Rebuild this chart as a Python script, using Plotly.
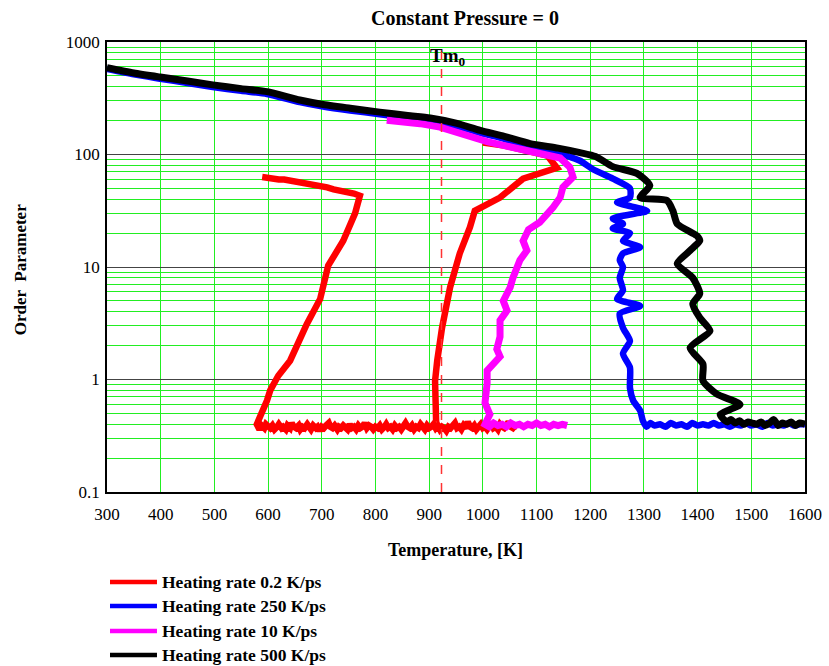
import plotly.graph_objects as go

# ---------------- data ----------------
TM0 = 923  # melting temperature marker (K)

# Heating rate 0.2 K/ps  (two pieces, separated by None)
red_T = [1000, 1040, 1088, 1120, 1138, 1075, 1032, 985, 976, 957, 939, 924, 915, 911, 913,
         None,
         589, 596, 604, 612, 620, 630, 640, 648, 655, 668, 680, 690, 700, 710, 722, 735, 748, 760, 771,
         762, 740, 712, 697, 672, 641, 619, 604, 598, 579,
         584, 588, 593, 596, 601, 604, 608, 612, 617, 620, 625, 628, 633, 636, 641, 644, 648, 652,
         657, 660, 664, 668, 673, 676, 680, 684, 689, 692, 696, 700, 704, 708, 713, 716, 720,
         724, 729, 732, 736, 740, 744, 748, 752, 756, 760, 764, 768, 772, 776, 780, 784, 788,
         792, 796, 800, 804, 808, 812, 817, 820, 824, 828, 832, 836, 840, 844, 848, 852, 856,
         860, 864, 868, 872, 876, 880, 884, 888, 892, 896, 900, 904, 908, 912, 916, 920, 924,
         928, 932, 936, 940, 944, 948, 952, 956, 960, 964, 968, 972, 976, 980, 984, 988, 992,
         996, 1000, 1004, 1008, 1012, 1016, 1020, 1024, 1028, 1032, 1036, 1040, 1044, 1048,
         1052, 1056, 1060, 1065, 1071]
red_v = [128, 120, 106, 98, 76, 61, 41.4, 31.6, 22.6, 13.2, 6.6, 2.88, 1.47, 0.97, 0.42,
         None,
         63, 62, 62, 61, 60, 60, 59, 58, 57, 56, 55, 54, 53, 51, 49, 48, 46, 45, 43,
         30, 17.1, 10.3, 5.2, 3.1, 1.47, 1.08, 0.80, 0.65, 0.40,
         0.36, 0.39, 0.37, 0.40, 0.38, 0.37, 0.39, 0.36, 0.38, 0.40, 0.37, 0.38, 0.36, 0.39, 0.37,
         0.41, 0.38, 0.37, 0.39, 0.36, 0.38, 0.37, 0.40, 0.38, 0.36, 0.39, 0.37, 0.38, 0.35,
         0.38, 0.37, 0.39, 0.41, 0.38, 0.37, 0.39, 0.36, 0.38, 0.37, 0.39, 0.38, 0.36, 0.40,
         0.37, 0.38, 0.36, 0.39, 0.37, 0.38, 0.41, 0.37, 0.39, 0.38, 0.36, 0.38, 0.37, 0.39,
         0.36, 0.38, 0.40, 0.37, 0.38, 0.36, 0.39, 0.37, 0.38, 0.36, 0.39, 0.41, 0.38, 0.37,
         0.39, 0.36, 0.38, 0.37, 0.40, 0.38, 0.36, 0.39, 0.37, 0.38, 0.40, 0.37, 0.39, 0.36,
         0.38, 0.37, 0.35, 0.38, 0.37, 0.39, 0.41, 0.37, 0.38, 0.36, 0.39, 0.37, 0.42, 0.38,
         0.37, 0.39, 0.36, 0.38, 0.40, 0.37, 0.38, 0.36, 0.39, 0.41, 0.37, 0.38, 0.36, 0.40,
         0.38, 0.37, 0.39, 0.42, 0.38, 0.37, 0.39, 0.38]

# Heating rate 250 K/ps
blue_T = [300, 350, 399, 450, 497, 550, 598, 659, 700, 753, 808, 860, 902, 950, 995, 1040, 1088,
          1140, 1160, 1181, 1205, 1242, 1274, 1274, 1250, 1306, 1242, 1261, 1242, 1274, 1261, 1293,
          1261, 1255, 1261, 1255, 1261, 1250, 1293, 1255, 1261, 1274, 1261, 1274, 1274, 1280, 1293,
          1298, 1305, 1312, 1320, 1330, 1340, 1350, 1360, 1370, 1380, 1390, 1400, 1410, 1420, 1430,
          1440, 1450, 1460, 1470, 1480, 1490, 1500, 1510, 1520, 1530, 1540, 1550, 1560, 1570, 1580,
          1590, 1600]
blue_v = [575, 515, 472, 432, 398, 368, 345, 292, 268, 246, 228, 212, 200, 180, 156, 138, 118,
          104, 96, 88, 74, 61, 50, 41.4, 37.5, 31.6, 27, 24.2, 22, 20, 17.1, 15,
          13.2, 11.5, 10, 8.0, 6.2, 5.2, 4.5, 3.85, 2.88, 2.2, 1.7, 1.28, 0.84, 0.65, 0.53,
          0.43, 0.38, 0.41, 0.39, 0.40, 0.38, 0.41, 0.39, 0.40, 0.38, 0.41, 0.39, 0.40, 0.39, 0.41,
          0.39, 0.40, 0.38, 0.40, 0.39, 0.41, 0.39, 0.40, 0.38, 0.41, 0.39, 0.40, 0.39, 0.41, 0.39,
          0.40, 0.40]

# Heating rate 10 K/ps
mag_T = [821, 850, 883, 920, 950, 976, 1008, 1040, 1088, 1120, 1144, 1162, 1168, 1149, 1144,
         1131, 1112, 1106, 1085, 1075, 1082, 1069, 1056, 1051, 1038, 1045, 1032, 1032, 1026, 1032,
         1008, 1008, 1004, 1013, 1004,
         1012, 1020, 1028, 1036, 1044, 1052, 1060, 1068, 1076, 1084, 1092, 1100, 1108, 1116, 1124,
         1132, 1140, 1148, 1157]
mag_v = [202, 196, 188, 175, 158, 143, 130, 120, 106, 98, 93, 77, 63, 51, 41.4,
         34, 27.7, 25, 21.5, 17.1, 14, 11.5, 8.0, 6.6, 5.0, 4.1, 3.35, 2.4, 1.86, 1.6,
         1.2, 0.93, 0.62, 0.49, 0.40,
         0.38, 0.41, 0.39, 0.40, 0.38, 0.41, 0.39, 0.40, 0.38, 0.40, 0.39, 0.41, 0.39, 0.40, 0.38,
         0.40, 0.39, 0.40, 0.39]

# Heating rate 500 K/ps
blk_T = [300, 350, 399, 450, 497, 550, 598, 659, 700, 753, 808, 860, 902, 950, 995, 1040, 1088,
         1140, 1181, 1210, 1242, 1287, 1311, 1293, 1343, 1354, 1362, 1399, 1404, 1386, 1362, 1391,
         1404, 1391, 1404, 1423, 1386, 1410, 1410, 1436, 1479, 1442, 1447,
         1455, 1462, 1470, 1478, 1486, 1494, 1502, 1510, 1518, 1526, 1534, 1542, 1550, 1558, 1566,
         1574, 1582, 1590, 1600]
blk_v = [590, 530, 488, 450, 416, 385, 362, 305, 280, 258, 238, 222, 211, 190, 164, 145, 125,
         114, 104, 96, 78, 68, 53, 41.4, 39, 31.6, 24.2, 18.9, 17.1, 14, 10.7, 8.0,
         5.8, 4.7, 3.54, 2.71, 1.91, 1.37, 0.97, 0.74, 0.60, 0.49, 0.45,
         0.42, 0.44, 0.41, 0.43, 0.40, 0.42, 0.41, 0.40, 0.42, 0.39, 0.41, 0.44, 0.39, 0.41, 0.40,
         0.42, 0.39, 0.41, 0.40]

series = [
    ("Heating rate 0.2 K/ps", red_T, red_v, "#ff0000", 6.5, "linear"),
    ("Heating rate 250 K/ps", blue_T, blue_v, "#0000ff", 6.5, "spline"),
    ("Heating rate 10 K/ps", mag_T, mag_v, "#ff00ff", 7, "linear"),
    ("Heating rate 500 K/ps", blk_T, blk_v, "#000000", 7, "spline"),
]

x_ticks = [300, 400, 500, 600, 700, 800, 900, 1000, 1100, 1200, 1300, 1400, 1500, 1600]
y_ticks = [0.1, 1, 10, 100, 1000]
y_ticktext = ["0.1", "1", "10", "100", "1000"]
y_minor = [m * d for d in (0.1, 1, 10, 100) for m in range(2, 10)]

SERIF = "Liberation Serif, Times New Roman, serif"

fig = go.Figure()
for name, T, v, col, w, shp in series:
    line = dict(color=col, width=w, shape=shp)
    if shp == "spline":
        line["smoothing"] = 0.6
    fig.add_trace(go.Scatter(x=T, y=v, mode="lines", name=name, line=line,
                             connectgaps=False, showlegend=False))

fig.update_layout(
    width=829, height=666,
    showlegend=False,
    margin=dict(l=107, r=24, t=42, b=174, autoexpand=False),
    paper_bgcolor="white", plot_bgcolor="white",
    font=dict(family=SERIF, size=16, color="black"),
    xaxis=dict(range=[300, 1600], tickvals=x_ticks, ticks="", showgrid=True,
               gridcolor="#22ee22", gridwidth=1, showline=True, mirror=True,
               linecolor="black", linewidth=1.5, zeroline=False, automargin=False,
               ticklabelstandoff=6, tickfont=dict(family=SERIF, size=17)),
    yaxis=dict(type="log", range=[-1, 3], tickvals=y_ticks, ticktext=y_ticktext,
               ticks="", showgrid=True, gridcolor="#444444", gridwidth=1,
               showline=True, mirror=True, linecolor="black", linewidth=1.5, automargin=False,
               zeroline=False, ticklabelstandoff=2, tickfont=dict(family=SERIF, size=17),
               minor=dict(tickvals=y_minor, showgrid=True, gridcolor="#22ee22", gridwidth=1, ticks="")),
)

# Tm0 dashed marker
fig.add_shape(type="line", xref="x", yref="paper", x0=TM0, x1=TM0, y0=0, y1=1,
              line=dict(color="#ff3333", width=1.5, dash="dash"))

annotations = [
    dict(text="<b>Constant Pressure = 0</b>", x=0.513, y=1.0533, xref="paper", yref="paper",
         showarrow=False, xanchor="center", yanchor="middle", font=dict(family=SERIF, size=20)),
    dict(text="<b>Tm<sub>0</sub></b>", x=TM0, y=0.966, xref="x", yref="paper", xshift=6,
         showarrow=False, xanchor="center", yanchor="middle", font=dict(family=SERIF, size=19)),
    dict(text="<b>Temperature, [K]</b>", x=0.499, y=-0.129, xref="paper", yref="paper",
         showarrow=False, xanchor="center", yanchor="middle", font=dict(family=SERIF, size=18)),
    dict(text="<b>Order  Parameter</b>", x=-0.1246, y=0.493, xref="paper", yref="paper",
         showarrow=False, xanchor="center", yanchor="middle", textangle=-90,
         font=dict(family=SERIF, size=17)),
]

# manual legend
leg_y = [-0.2, -0.2533, -0.3089, -0.3622]
for (name, T, v, col, w, shp), ly in zip(series, leg_y):
    fig.add_shape(type="line", xref="paper", yref="paper", x0=0.0043, x1=0.0716, y0=ly, y1=ly,
                  line=dict(color=col, width=4.5))
    annotations.append(dict(text="<b>" + name + "</b>", x=0.0765, y=ly, xref="paper", yref="paper",
                            showarrow=False, xanchor="left", yanchor="middle",
                            font=dict(family=SERIF, size=17.5)))

fig.update_layout(annotations=annotations)
fig.write_html("out.html")
